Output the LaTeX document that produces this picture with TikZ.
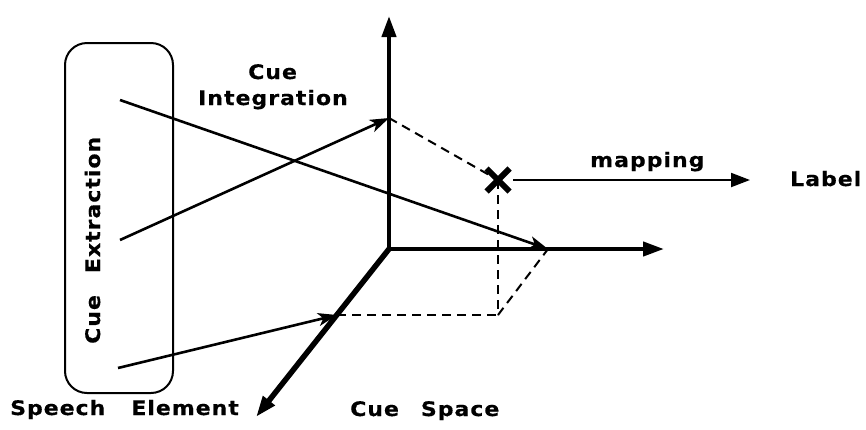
\documentclass[tikz,border=0pt]{standalone}
\usepackage{fontspec}
\newfontfamily\labf{DejaVu Sans}[FakeStretch=1.1, LetterSpace=5, BoldFeatures={FakeBold=0.5}]
\usetikzlibrary{arrows.meta,shapes.misc}
\begin{document}
\begin{tikzpicture}[x=1pt,y=-1pt,
  lbl/.style={inner sep=0pt, anchor=base west, font=\labf\bfseries\fontsize{20}{24}\selectfont},
  axis/.style={line width=4.2pt, -{Triangle[length=21pt,width=14pt]}},
  thin/.style={line width=2.6pt, -{Stealth[length=19pt,width=13pt,inset=5pt]}},
  dsh/.style={line width=2pt, dash pattern=on 9pt off 6pt}]
\useasboundingbox (0,0) rectangle (866,429);
% axes
\coordinate (O) at (389,249);
\coordinate (Ytip) at (389,16);
\coordinate (Xtip) at (664,249);
\coordinate (Ztip) at (256,417);
\draw[axis] (O) -- (Ytip);
\draw[axis] (O) -- (Xtip);
\draw[axis, line width=5.5pt] (O) -- (Ztip);
% points
\coordinate (A) at (548,249);
\coordinate (B) at (389,118);
\coordinate (C) at (337,315);
\coordinate (D) at (498,315);
\node[cross out, draw, line width=6pt, minimum size=17pt, inner sep=0pt] (X) at (498,180) {};
\coordinate (M) at (750,180);
% box
\node[draw, rounded corners=22pt, minimum width=108pt, minimum height=350pt, line width=2pt] (box) at (119,218) {};
\node[lbl, rotate=90] (ce) at (100,344) {Cue\hspace{22pt}Extraction};
% cue lines
\coordinate (s1) at (120,100);
\coordinate (s2) at (120,240);
\coordinate (s3) at (118,368);
\draw[thin] (s1) -- (A);
\draw[thin] (s2) -- (B);
\draw[thin] (s3) -- (C);
% dashed projections
\draw[dsh] (B) -- (X.center);
\draw[dsh] (X.center) -- (D);
\draw[dsh] (C) -- (D);
\draw[dsh] (D) -- (A);
% mapping
\draw[line width=2pt, shorten <=15pt, -{Triangle[length=19pt,width=14pt]}] (X.center) -- (M);
% labels
\node[lbl] (cue) at (248,79) {Cue};
\node[lbl] (integ) at (198,105) {Integration};
\node[lbl] (map) at (590,167) {mapping};
\node[lbl] (lab) at (790,186) {Label};
\node[lbl] (se) at (10,415) {Speech\hspace{26pt}Element};
\node[lbl] (cs) at (350,416) {Cue\hspace{22pt}Space};
\end{tikzpicture}
\end{document}
